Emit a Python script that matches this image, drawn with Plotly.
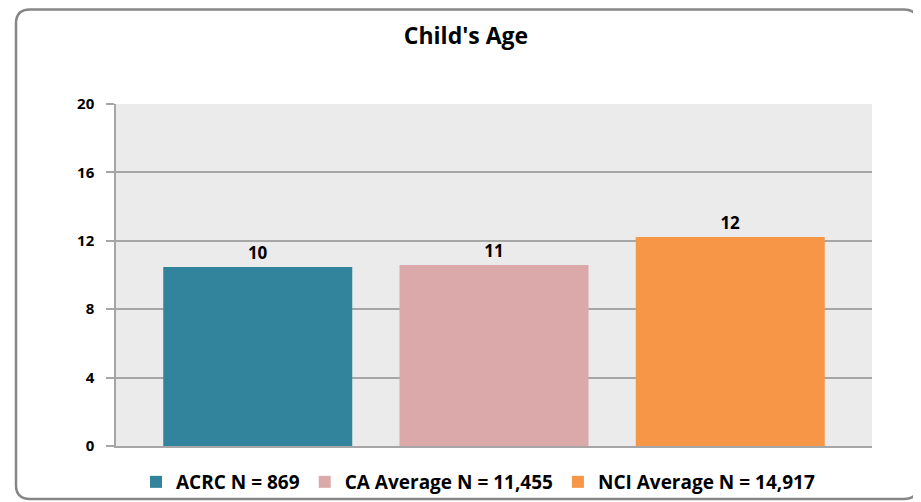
import plotly.graph_objects as go

categories = ["ACRC N = 869", "CA Average N = 11,455", "NCI Average N = 14,917"]
values = [10.47, 10.58, 12.22]
labels = ["10", "11", "12"]
colors = ["#31849b", "#dba9aa", "#f79646"]
y_ticks = [0, 4, 8, 12, 16, 20]

OFF = 8  # default body margin of the html page
W, H = 921 - OFF, 502 - OFF
# plot area in page pixels: x 116..872, y 104..446
L, R, T, B = 116 - OFF, 921 - 872, 104 - OFF, 502 - 446
pw, ph = W - L - R, H - T - B

fig = go.Figure()
for i, (c, v, lab, col) in enumerate(zip(categories, values, labels, colors)):
    fig.add_trace(go.Bar(
        x=[i], y=[v], name=f"<b>{c}</b>", marker=dict(color=col, line=dict(width=0)),
        width=0.8, text=[lab], textposition="outside", cliponaxis=False,
        textfont=dict(family="Open Sans", size=17, color="#000000"),
        texttemplate="<b>%{text}</b>",
    ))

def P(x, y):
    a = (x - OFF - L) / pw
    b = (H - B - (y - OFF)) / ph
    return f"{a:.5f},{b:.5f}"

# rounded border (page pixel coordinates)
x0, y0, x1, y1, r = 16, 9.5, 918, 499, 14
path = (f"M {P(x0 + r, y0)} L {P(x1 - r, y0)} Q {P(x1, y0)} {P(x1, y0 + r)} "
        f"L {P(x1, y1 - r)} Q {P(x1, y1)} {P(x1 - r, y1)} "
        f"L {P(x0 + r, y1)} Q {P(x0, y1)} {P(x0, y1 - r)} "
        f"L {P(x0, y0 + r)} Q {P(x0, y0)} {P(x0 + r, y0)} Z")
fig.add_shape(type="path", path=path, xref="paper", yref="paper",
              line=dict(color="#868686", width=2.5), layer="below")

fig.update_layout(
    width=W, height=H,
    margin=dict(l=L, r=R, t=T, b=B, autoexpand=False),
    paper_bgcolor="white", plot_bgcolor="#ebebeb",
    barmode="overlay",
    title=dict(text="<b>Child's Age</b>", x=(466 - OFF - L) / pw, xref="paper", xanchor="center",
               y=1 - (36 - OFF) / H, yanchor="middle",
               font=dict(family="Open Sans", size=23, color="#000000")),
    showlegend=True,
    legend=dict(orientation="h", x=(478 - OFF - L) / pw, xanchor="center", xref="paper",
                y=-(482 - 446) / ph, yanchor="middle",
                font=dict(family="Open Sans", size=19, color="#000000"),
                itemwidth=30, traceorder="normal", bgcolor="rgba(0,0,0,0)"),
    font=dict(family="Open Sans", color="#000000"),
)
fig.update_xaxes(range=[-0.6, 2.6], showticklabels=False, showgrid=False,
                 zeroline=False, showline=True, linecolor="#a6a6a6", linewidth=2,
                 ticks="", fixedrange=True)
fig.update_yaxes(range=[0, 20], tickvals=y_ticks, ticktext=[f"<b>{t}</b>" for t in y_ticks],
                 showgrid=True, gridcolor="#a6a6a6", gridwidth=1.5, zeroline=False,
                 showline=True, linecolor="#a6a6a6", linewidth=1.5,
                 ticks="outside", ticklen=8, tickcolor="#a6a6a6", tickwidth=1.5,
                 tickfont=dict(family="Open Sans", size=15, color="#000000"),
                 ticklabelstandoff=9)

fig.write_html("out.html")
